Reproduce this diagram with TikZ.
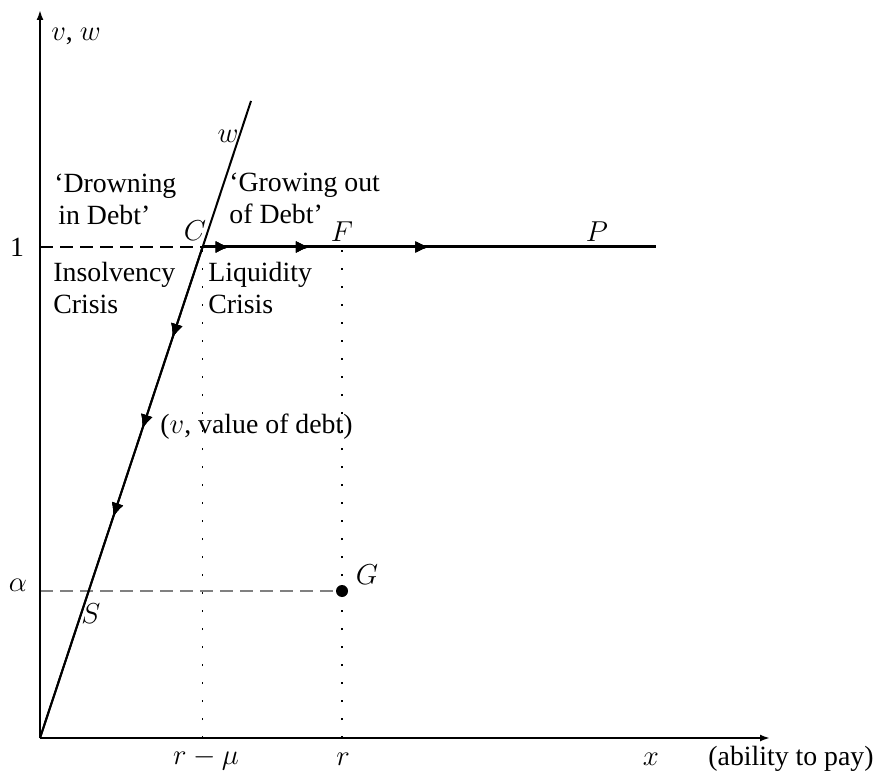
\documentclass[tikz,border=0pt]{standalone}
\usepackage{fontspec}
\setmainfont{Liberation Serif}
\usetikzlibrary{arrows.meta,decorations.markings}
\begin{document}
\begin{tikzpicture}[x=0.5pt,y=-0.5pt,
  font=\fontsize{13.9}{14.5}\selectfont,
  axis/.style={line width=1pt,-{Latex[length=5pt,width=3.5pt]}},
  curve/.style={line width=1pt},
  thick line/.style={line width=1.5pt},
  guide dash/.style={line width=0.55pt,dash pattern=on 6.5pt off 3.5pt},
  guide dot/.style={line width=0.8pt,dash pattern=on 0.8pt off 8.2pt},
  midtip/.style={decoration={markings,
     mark=at position #1 with {\arrow{Latex[length=7pt,width=6pt]}}},postaction={decorate}},
  lbl/.style={inner sep=0pt},
  txt/.style={inner sep=0pt,align=left,anchor=west}]
\useasboundingbox (0,0) rectangle (882,774);
% coordinates
\coordinate (O) at (40,738);
\coordinate (ytop) at (40,10);
\coordinate (xend) at (770,738);
\coordinate (wtop) at (251,101);
\coordinate (C) at (202.5,247);
\coordinate (one) at (40,247);
\coordinate (al) at (40,591);
\coordinate (P) at (656,247);
\coordinate (F) at (342,247);
\coordinate (G) at (342,591);
\coordinate (rmu) at (202.5,738);
\coordinate (r) at (342,738);
% guides
\draw[guide dot] (rmu) -- (C);
\draw[guide dot] (r) -- (F);
\draw[guide dash] (one) -- (C);
\draw[guide dash,gray] (al) -- (G);
% axes
\draw[axis] (O) -- (ytop);
\draw[axis] (O) -- (xend);
% w line
\draw[curve] (O) -- (wtop);
\draw[curve,midtip=0.185,midtip=0.37,midtip=0.55] (C) -- (O);
% horizontal
\draw[thick line,midtip=0.06,midtip=0.237,midtip=0.50] (C) -- (P);
% G dot
\fill (G) circle (3pt);
% labels
\node[lbl] (lvw) at (76,36) {$v$, $w$};
\node[lbl] (l1) at (17,247) {1};
\node[lbl] (lal) at (18,585) {$\alpha$};
\node[lbl] (lw) at (228,136) {$w$};
\node[lbl] (lC) at (195,231) {$C$};
\node[lbl] (lF) at (342,232) {$F$};
\node[lbl] (lP) at (597,232) {$P$};
\node[lbl] (lS) at (91,614) {$S$};
\node[lbl] (lG) at (367,575) {$G$};
\node[lbl] (lrmu) at (206,759) {$r-\mu$};
\node[lbl] (lr) at (343,759) {$r$};
\node[lbl] (lx) at (651,759) {$x$};
\node[lbl] (lab) at (791,759) {(ability to pay)};
\node[txt] (drown1) at (54,186) {`Drowning};
\node[txt] (drown2) at (58,215) {in Debt'};
\node[txt] (grow1) at (229,185) {`Growing out};
\node[txt] (grow2) at (229,214) {of Debt'};
\node[txt] (ins1) at (53,275) {Insolvency};
\node[txt] (ins2) at (53,304) {Crisis};
\node[txt] (liq1) at (208,275) {Liquidity};
\node[txt] (liq2) at (208,304) {Crisis};
\node[txt] (val) at (160,427) {($v$, value of debt)};
\end{tikzpicture}
\end{document}
